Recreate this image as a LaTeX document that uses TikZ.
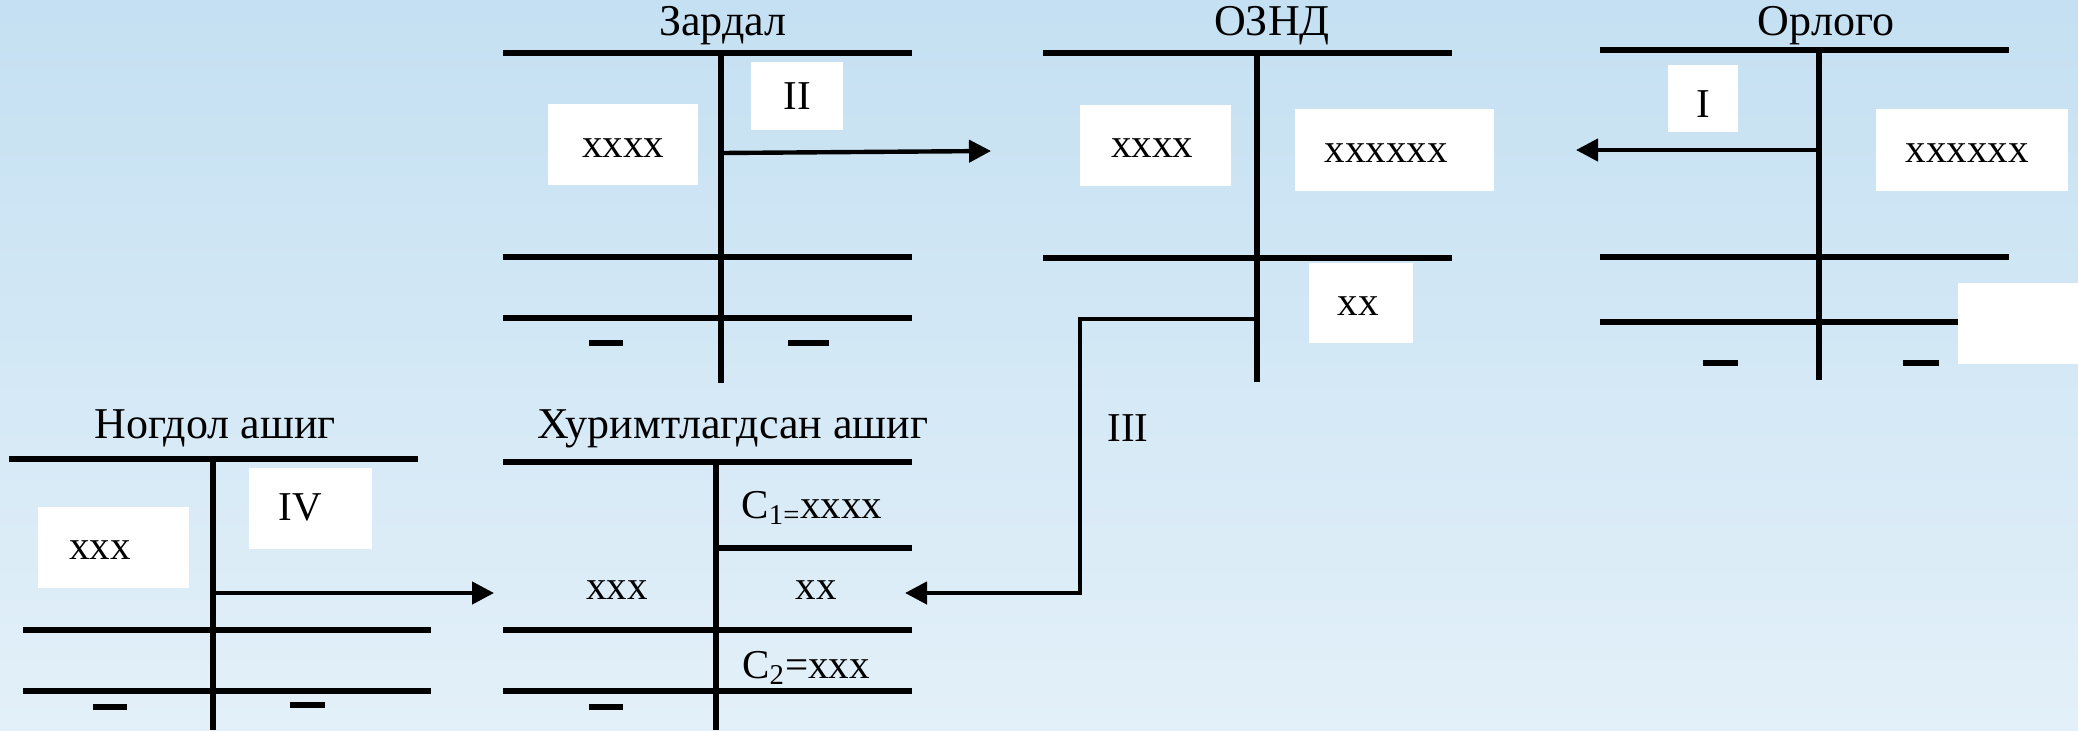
\documentclass[tikz,border=0pt]{standalone}
\usepackage{fontspec}
\setmainfont{Liberation Serif}
\usetikzlibrary{arrows.meta}
\definecolor{bgtop}{RGB}{196,224,242}
\definecolor{bgbot}{RGB}{227,240,249}
\begin{document}
\begin{tikzpicture}[x=0.5pt,y=-0.5pt,
  acc/.style={line width=2.8pt},
  txt/.style={font=\fontsize{20.5}{24}\selectfont},
  wbox/.style={fill=white, inner sep=0pt, txt},
  lbl/.style={inner sep=0pt, txt},
  ttl/.style={inner sep=0pt, anchor=base, font=\fontsize{22}{26}\selectfont},
  sub/.style={inner sep=0pt, anchor=base, txt},
  flow/.style={line width=2.2pt, -{Triangle[length=11pt,width=11pt]}},
  dashmark/.style={line width=3pt}
]
\useasboundingbox (0,0) rectangle (2078,730);
\shade[top color=bgtop, bottom color=bgbot] (0,0) rectangle (2078,730);

% ---------- Зардал ----------
\node[ttl] (tZ) at (723,35) {Зардал};
\draw[acc] (503,53) -- (912,53);
\draw[acc] (721,53) -- (721,383);
\draw[acc] (503,257) -- (912,257);
\draw[acc] (503,318) -- (912,318);
\draw[dashmark] (589,343) -- (623,343);
\draw[dashmark] (788,343) -- (829,343);
\node[wbox, minimum width=75pt, minimum height=40.5pt] (zL) at (623,144.5) {};
\node[lbl] (zLt) at (623,148) {xxxx};
\node[wbox, minimum width=46pt, minimum height=34pt] (zII) at (797,96) {II};

% ---------- ОЗНД ----------
\node[ttl] (tO) at (1272,35) {ОЗНД};
\draw[acc] (1043,53) -- (1452,53);
\draw[acc] (1257,53) -- (1257,382);
\draw[acc] (1043,258) -- (1452,258);
\node[wbox, minimum width=75.5pt, minimum height=40.5pt] (oL) at (1155.5,145.5) {};
\node[lbl] (oLt) at (1152,148) {xxxx};
\node[wbox, minimum width=99.5pt, minimum height=41pt] (oR) at (1394.5,150) {};
\node[lbl] (oRt) at (1386,153) {xxxxxx};
\node[wbox, minimum width=52pt, minimum height=40pt] (oX) at (1361,303) {};
\node[lbl] (oXt) at (1358,306) {xx};

% ---------- Орлого ----------
\node[ttl] (tR) at (1826,35) {Орлого};
\draw[acc] (1600,50) -- (2009,50);
\draw[acc] (1819,50) -- (1819,380);
\draw[acc] (1600,257) -- (2009,257);
\draw[acc] (1600,322) -- (2009,322);
\draw[dashmark] (1703,363) -- (1738,363);
\draw[dashmark] (1903,363) -- (1939,363);
\node[wbox, minimum width=35pt, minimum height=33.5pt] (rI) at (1703,98.5) {};
\node[lbl] (rIt) at (1703,104) {I};
\node[wbox, minimum width=96pt, minimum height=41pt] (rR) at (1972,150) {};
\node[lbl] (rRt) at (1967,153) {xxxxxx};
\node[wbox, minimum width=60pt, minimum height=40.5pt] (rE) at (2018,323.5) {};

% ---------- Ногдол ашиг ----------
\node[ttl] (tN) at (215,438) {Ногдол ашиг};
\draw[acc] (9,459) -- (418,459);
\draw[acc] (213,459) -- (213,730);
\draw[acc] (23,630) -- (431,630);
\draw[acc] (23,691) -- (431,691);
\draw[dashmark] (93,707) -- (127,707);
\draw[dashmark] (290,705) -- (325,705);
\node[wbox, minimum width=75.5pt, minimum height=40.5pt] (nL) at (113.5,547.5) {};
\node[lbl] (nLt) at (100,550) {xxx};
\node[wbox, minimum width=61.5pt, minimum height=40.5pt] (nIV) at (310.5,508.5) {};
\node[lbl] (nIVt) at (300,507) {IV};

% ---------- Хуримтлагдсан ашиг ----------
\node[ttl] (tH) at (733,438) {Хуримтлагдсан ашиг};
\draw[acc] (503,462) -- (912,462);
\draw[acc] (716,462) -- (716,730);
\draw[acc] (716,548) -- (912,548);
\draw[acc] (503,630) -- (912,630);
\draw[acc] (503,691) -- (912,691);
\draw[dashmark] (589,707) -- (623,707);
\node[sub] (hC1) at (812,518) {C\textsubscript{1=}xxxx};
\node[lbl] (hL) at (617,590) {xxx};
\node[lbl] (hR) at (816,590) {xx};
\node[sub] (hC2) at (806,678) {C\textsubscript{2}=xxx};

% ---------- connectors ----------
\coordinate (aZs) at (721,153);
\coordinate (aZe) at (991,151);
\draw[flow] (aZs) -- (aZe);

\coordinate (aRs) at (1819,150);
\coordinate (aRe) at (1576,150);
\draw[flow] (aRs) -- (aRe);

\coordinate (aOs) at (1257,319);
\coordinate (aOb) at (1080,593);
\coordinate (aOe) at (905,593);
\draw[flow] (aOs) -| (aOb) -- (aOe);
\node[lbl] (lIII) at (1128,428) {III};

\coordinate (aNs) at (213,593);
\coordinate (aNe) at (494,593);
\draw[flow] (aNs) -- (aNe);
\end{tikzpicture}
\end{document}
